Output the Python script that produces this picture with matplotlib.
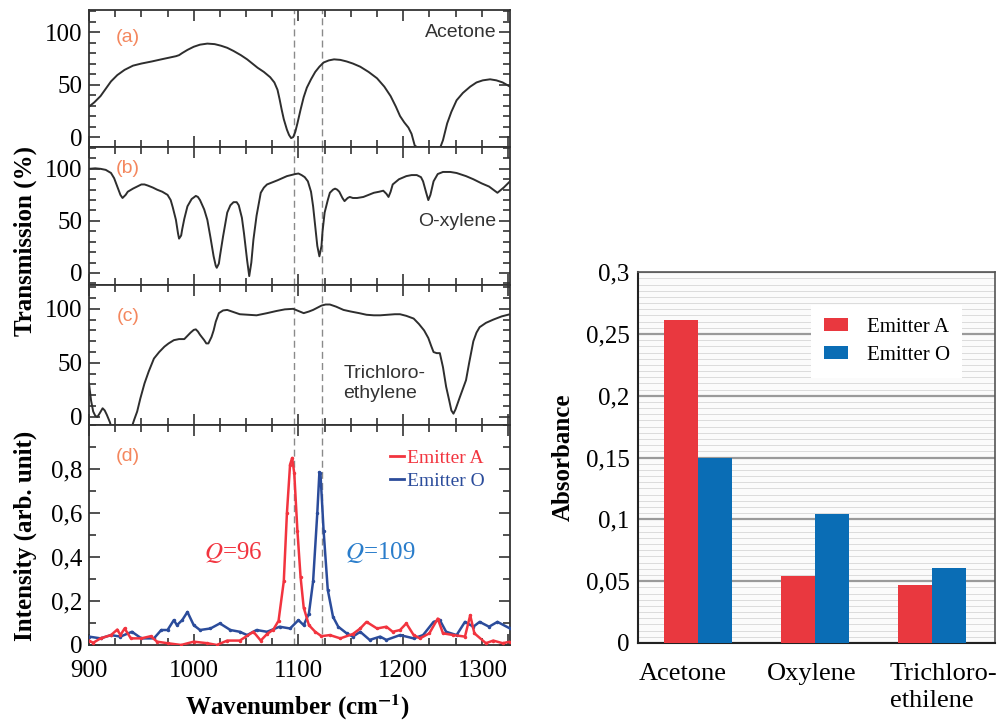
import numpy as np
import matplotlib
matplotlib.use("Agg")
import matplotlib.pyplot as plt
from matplotlib.ticker import MultipleLocator, FixedLocator
from matplotlib.lines import Line2D

plt.rcParams['font.family'] = ['Liberation Serif', 'DejaVu Serif']
plt.rcParams['mathtext.fontset'] = 'stix'

# ---------------- data ----------------
# (a) Acetone transmission
wn_a = [900, 905, 911, 916, 921, 927, 934, 942, 950, 960, 969, 976, 983, 986, 989, 994,
        1000, 1006, 1013, 1020, 1026, 1032, 1038, 1045, 1051, 1056, 1061, 1067, 1073,
        1077, 1080, 1082, 1084, 1086, 1089, 1091, 1093, 1095, 1097, 1099, 1102, 1105,
        1108, 1112, 1116, 1120, 1124, 1129, 1134, 1140, 1146, 1152, 1159, 1167, 1175,
        1182, 1188, 1193, 1197, 1201, 1205, 1208, 1211, 1215, 1235, 1238, 1242, 1246,
        1251, 1257, 1264, 1270, 1276, 1283, 1289, 1295, 1302]
tr_a = [29, 33, 39, 46, 53, 59, 64, 68, 70, 72, 74, 75.5, 77, 78, 80, 83,
        86, 88, 89, 88.5, 87, 85, 82, 78, 74, 70, 66, 62, 57,
        52, 45, 36, 26, 17, 7, 2, -1, 0, 5, 13, 26, 38,
        47, 55, 62, 67, 71, 73, 74, 73.5, 72, 70, 67, 62, 56,
        48, 39, 29, 20, 14, 9, 3, -8, -11, -11, -3, 13, 24,
        35, 42, 48, 52, 54, 55, 54, 52, 48]

# (b) O-xylene transmission
wn_b = [900, 906, 911, 916, 921, 924, 927, 930, 932, 935, 937, 942, 946, 950, 953, 956,
        961, 965, 970, 975, 978, 980, 983, 985, 986, 988, 989, 991, 994, 998, 1002,
        1004, 1006, 1010, 1013, 1016, 1019, 1021, 1022, 1024, 1025, 1028, 1032, 1035,
        1038, 1041, 1043, 1046, 1048, 1051, 1053, 1055, 1057, 1060, 1064, 1067, 1070,
        1075, 1080, 1089, 1097, 1100, 1103, 1106, 1109, 1112, 1114, 1116, 1118, 1120,
        1122, 1123, 1125, 1128, 1130, 1133, 1135, 1137, 1139, 1142, 1144, 1147, 1149,
        1152, 1156, 1162, 1167, 1172, 1177, 1181, 1184, 1186, 1188, 1190, 1196, 1203,
        1208, 1213, 1217, 1219, 1222, 1224, 1226, 1229, 1233, 1238, 1245, 1251, 1260,
        1267, 1275, 1282, 1286, 1290, 1296, 1302]
tr_b = [100, 100.5, 100, 99, 96, 91, 83, 75, 72, 75, 78, 81, 83, 85, 85, 84,
        82, 80, 78, 75, 70, 63, 51, 38, 33, 36, 42, 52, 64, 71, 74,
        73, 70, 61, 51, 34, 16, 7, 5, 9, 16, 35, 58, 65,
        68, 68, 65, 53, 38, 12, -3, 10, 32, 55, 77, 82, 85,
        87, 89, 93, 95, 95.5, 94, 92, 88, 78, 64, 45, 26, 16,
        26, 40, 58, 70, 77, 80, 81, 80, 78, 72, 69, 72, 73,
        72, 72, 73, 75, 77, 78, 79, 76, 73, 78, 85, 90, 93,
        94, 94, 92, 88, 77, 70, 75, 88, 95, 97, 97, 96, 93,
        90, 86, 83, 80, 77, 82, 88]

# (c) Trichloroethylene transmission
wn_c = [900, 902, 904, 906, 908, 910, 913, 915, 917, 920, 922, 940, 943, 946, 949, 953,
        957, 962, 967, 972, 976, 981, 986, 991, 994, 997, 1000, 1002, 1004, 1006, 1010,
        1012, 1014, 1017, 1019, 1021, 1024, 1028, 1032, 1038, 1044, 1052, 1060, 1070,
        1079, 1087, 1095, 1100, 1105, 1110, 1114, 1118, 1122, 1126, 1130, 1136, 1143,
        1150, 1158, 1165, 1172, 1178, 1185, 1192, 1197, 1203, 1210, 1215, 1220, 1224,
        1227, 1229, 1232, 1235, 1238, 1241, 1244, 1246, 1248, 1250, 1254, 1257, 1260,
        1263, 1267, 1270, 1273, 1279, 1286, 1294, 1302]
tr_c = [31, 15, 5, 1, 0, 3, 8, 6, 2, -5, -12, -12, -3, 5, 17, 31,
        42, 54, 60, 65, 68, 71, 72, 72, 75, 78, 80.5, 81, 79, 76, 71,
        68, 68, 74, 80, 88, 96, 98.5, 99, 97, 95, 94.5, 94, 96,
        98, 99.5, 100, 98, 96, 97.5, 99, 101, 103, 104, 104, 102, 99,
        97.5, 96, 94.5, 94, 94, 94.5, 95, 95, 93.5, 91, 86, 80, 73,
        65, 60, 59, 59, 46, 28, 15, 6, 3, 7, 18, 26, 34,
        50, 70, 78, 83, 87, 90, 93, 95]

# (d) Emission spectra
wn_ea = [900, 904, 911, 921, 927, 930, 934, 940, 950, 959, 965, 975, 988, 1000, 1013,
         1022, 1032, 1044, 1057, 1064, 1070, 1076, 1081, 1086, 1089, 1092, 1094, 1096,
         1099, 1102, 1105, 1110, 1116, 1122, 1130, 1140, 1152, 1159, 1165, 1175, 1184,
         1190, 1197, 1203, 1210, 1216, 1225, 1233, 1238, 1248, 1259, 1264, 1268, 1279,
         1286, 1295, 1302]
int_ea = [0.02, 0.01, 0.03, 0.045, 0.07, 0.045, 0.075, 0.03, 0.03, 0.04, 0.015, 0.008,
          0.0, 0.015, 0.008, 0.0, 0.02, 0.02, 0.06, 0.02, 0.05, 0.07, 0.11, 0.29, 0.6,
          0.82, 0.85, 0.78, 0.52, 0.31, 0.17, 0.09, 0.06, 0.04, 0.045, 0.03, 0.05, 0.075,
          0.105, 0.075, 0.083, 0.06, 0.068, 0.098, 0.045, 0.03, 0.053, 0.12, 0.053,
          0.045, 0.038, 0.135, 0.053, 0.008, 0.02, 0.008, 0.015]

wn_eo = [900, 911, 921, 930, 941, 950, 962, 969, 975, 981, 984, 989, 994, 1000, 1006,
         1016, 1025, 1035, 1044, 1051, 1060, 1070, 1082, 1092, 1100, 1105, 1110, 1114,
         1118, 1120, 1121, 1124, 1128, 1133, 1138, 1146, 1152, 1159, 1168, 1178, 1184,
         1197, 1210, 1219, 1229, 1235, 1241, 1251, 1259, 1267, 1273, 1282, 1290, 1302]
int_eo = [0.038, 0.03, 0.045, 0.038, 0.06, 0.03, 0.03, 0.068, 0.068, 0.113, 0.09,
          0.113, 0.15, 0.09, 0.068, 0.075, 0.098, 0.068, 0.06, 0.045, 0.068, 0.06,
          0.083, 0.075, 0.113, 0.09, 0.143, 0.29, 0.6, 0.785, 0.78, 0.52, 0.25, 0.128,
          0.083, 0.053, 0.038, 0.06, 0.023, 0.038, 0.023, 0.045, 0.03, 0.045, 0.105,
          0.113, 0.06, 0.045, 0.105, 0.083, 0.105, 0.083, 0.105, 0.075]

marker_lines = [1095.5, 1122.5]
x_ticks = [900, 1000, 1100, 1200, 1300]
x_tick_labels = ['900', '1000', '1100', '1200', '1300']
d_ticks = [0, 0.2, 0.4, 0.6, 0.8]
d_tick_labels = ['0', '0,2', '0,4', '0,6', '0,8']

# Bar chart
categories = ['Acetone', 'Oxylene', 'Trichloro-\nethilene']
absorb_a = [0.261, 0.054, 0.047]
absorb_o = [0.150, 0.104, 0.061]
bar_ticks = [0, 0.05, 0.1, 0.15, 0.2, 0.25, 0.3]
bar_tick_labels = ['0', '0,05', '0,1', '0,15', '0,2', '0,25', '0,3']

# ---------------- style ----------------
C_LINE = '#2e2e2e'
C_PANEL = '#F4875E'
C_RED = '#F2343F'
C_BLUE = '#2B4C9B'
C_QBLUE = '#2A7DCB'
C_BAR_R = '#E9383F'
C_BAR_B = '#0A6DB5'
C_SPINE = '#333333'

fig = plt.figure(figsize=(10, 7.2), dpi=100)

L, W = 0.089, 0.421
rects = [(L, 0.7958, W, 0.1903), (L, 0.6042, W, 0.1917),
         (L, 0.4097, W, 0.1944), (L, 0.1042, W, 0.3056)]
axs = [fig.add_axes(r) for r in rects]


def style_axis(ax):
    for s in ax.spines.values():
        s.set_color(C_SPINE)
        s.set_linewidth(1.3)
    ax.set_xlim(900, 1302)
    ax.xaxis.set_major_locator(FixedLocator(x_ticks))
    ax.xaxis.set_minor_locator(MultipleLocator(25))
    ax.tick_params(which='both', direction='in', top=True, right=True,
                   color=C_SPINE, width=1.2, labelsize=18, pad=5)
    ax.tick_params(which='major', length=8)
    ax.tick_params(which='minor', length=5)
    for xv in marker_lines:
        ax.axvline(xv, color='#8a8a8a', lw=1.0, ls=(0, (5, 3)), zorder=1)


trans_data = [(wn_a, tr_a, (-9.5, 121)), (wn_b, tr_b, (-11.5, 121)),
              (wn_c, tr_c, (-7.5, 122))]
for ax, (x, y, yl) in zip(axs[:3], trans_data):
    style_axis(ax)
    ax.plot(x, y, color=C_LINE, lw=1.4, zorder=3, solid_joinstyle='round')
    ax.set_ylim(*yl)
    ax.yaxis.set_major_locator(FixedLocator([0, 50, 100]))
    ax.yaxis.set_minor_locator(MultipleLocator(10))
    ax.set_yticklabels(['0', '50', '100'])
    ax.tick_params(labelbottom=False)

axd = axs[3]
style_axis(axd)
axd.plot(wn_ea, int_ea, color=C_RED, lw=1.8, marker='.', ms=3, zorder=4)
axd.plot(wn_eo, int_eo, color=C_BLUE, lw=1.8, marker='.', ms=3, zorder=3)
axd.set_ylim(0, 1.0)
axd.yaxis.set_major_locator(FixedLocator(d_ticks))
axd.yaxis.set_minor_locator(MultipleLocator(0.1))
axd.set_yticklabels(d_tick_labels)
axd.set_xticklabels(x_tick_labels)
axd.get_xticklabels()[-1].set_horizontalalignment('right')
axd.tick_params(axis='x', pad=11)

# panel letters
sans = ['Liberation Sans', 'DejaVu Sans']
axs[0].text(937, 95, '(a)', color=C_PANEL, fontsize=14, family=sans, ha='center', va='center')
axs[1].text(937, 100, '(b)', color=C_PANEL, fontsize=14, family=sans, ha='center', va='center')
axs[2].text(937, 93, '(c)', color=C_PANEL, fontsize=14, family=sans, ha='center', va='center')
axd.text(937, 0.855, '(d)', color=C_PANEL, fontsize=14, family=sans, ha='center', va='center')

axs[0].text(1289, 100, 'Acetone', color='#333333', fontsize=14, family=sans, ha='right', va='center')
axs[1].text(1289, 49, 'O-xylene', color='#333333', fontsize=14, family=sans, ha='right', va='center')
axs[2].text(1143, 31, 'Trichloro-\nethylene', color='#333333', fontsize=14, family=sans,
            ha='left', va='center', linespacing=1.25)

axd.text(1038, 0.42, r'$Q$=96', color=C_RED, fontsize=18, ha='center', va='center')
axd.text(1178, 0.42, r'$Q$=109', color=C_QBLUE, fontsize=18, ha='center', va='center')

leg = axd.legend(handles=[Line2D([], [], color=C_RED, lw=2),
                          Line2D([], [], color=C_BLUE, lw=2)],
                 labels=['Emitter A', 'Emitter O'], loc='upper right',
                 bbox_to_anchor=(0.94, 0.89), frameon=False, fontsize=14,
                 handlelength=0.75, handletextpad=0.15, labelspacing=0.3,
                 borderpad=0, borderaxespad=0)
for t, c in zip(leg.get_texts(), [C_RED, C_BLUE]):
    t.set_color(c)

fig.text(0.025, 0.665, 'Transmission (%)', rotation=90, fontsize=18,
         fontweight='bold', ha='center', va='center')
fig.text(0.025, 0.256, 'Intensity (arb. unit)', rotation=90, fontsize=18,
         fontweight='bold', ha='center', va='center')
fig.text(0.297, 0.018, r'Wavenumber (cm$^{\mathbf{-1}}$)', fontsize=18,
         fontweight='bold', ha='center', va='center')

# ---------------- bar chart ----------------
axb = fig.add_axes((0.638, 0.107, 0.357, 0.515))
axb.set_facecolor('#fbfbfb')
xpos = np.arange(len(categories))
bw = 0.29
axb.bar(xpos - bw / 2, absorb_a, width=bw, color=C_BAR_R, zorder=3, label='Emitter A')
axb.bar(xpos + bw / 2, absorb_o, width=bw, color=C_BAR_B, zorder=3, label='Emitter O')
axb.set_xlim(-0.513, 2.54)
axb.set_ylim(0, 0.3)
axb.yaxis.set_major_locator(FixedLocator(bar_ticks))
axb.set_yticklabels(bar_tick_labels)
axb.yaxis.set_minor_locator(MultipleLocator(0.005))
axb.grid(axis='y', which='minor', color='#dcdcdc', lw=0.7, zorder=0)
axb.grid(axis='y', which='major', color='#9a9a9a', lw=1.6, zorder=1)
axb.set_xticks([])
axb.tick_params(axis='y', which='both', length=0, labelsize=18, pad=6)
for s in ['left', 'bottom']:
    axb.spines[s].set_color('#222222')
    axb.spines[s].set_linewidth(1.5)
for s in ['top', 'right']:
    axb.spines[s].set_color('#555555')
    axb.spines[s].set_linewidth(1.2)
axb.set_ylabel('Absorbance', fontsize=18, fontweight='bold', labelpad=8)

label_x = [-0.51, 0.59, 1.64]
for lx, cat in zip(label_x, categories):
    axb.text(lx, -0.055, cat, transform=axb.get_xaxis_transform(), fontsize=19,
             ha='left', va='top', linespacing=1.25, multialignment='left')

lb = axb.legend(loc='upper right', bbox_to_anchor=(0.908, 0.911), fontsize=15,
                handlelength=1.15, handleheight=0.6, handletextpad=0.9,
                labelspacing=0.45, frameon=True, fancybox=False,
                facecolor='white', edgecolor='none', framealpha=1,
                borderpad=0.6, borderaxespad=0)
lb.set_zorder(5)

fig.savefig('out.png', dpi=100)
